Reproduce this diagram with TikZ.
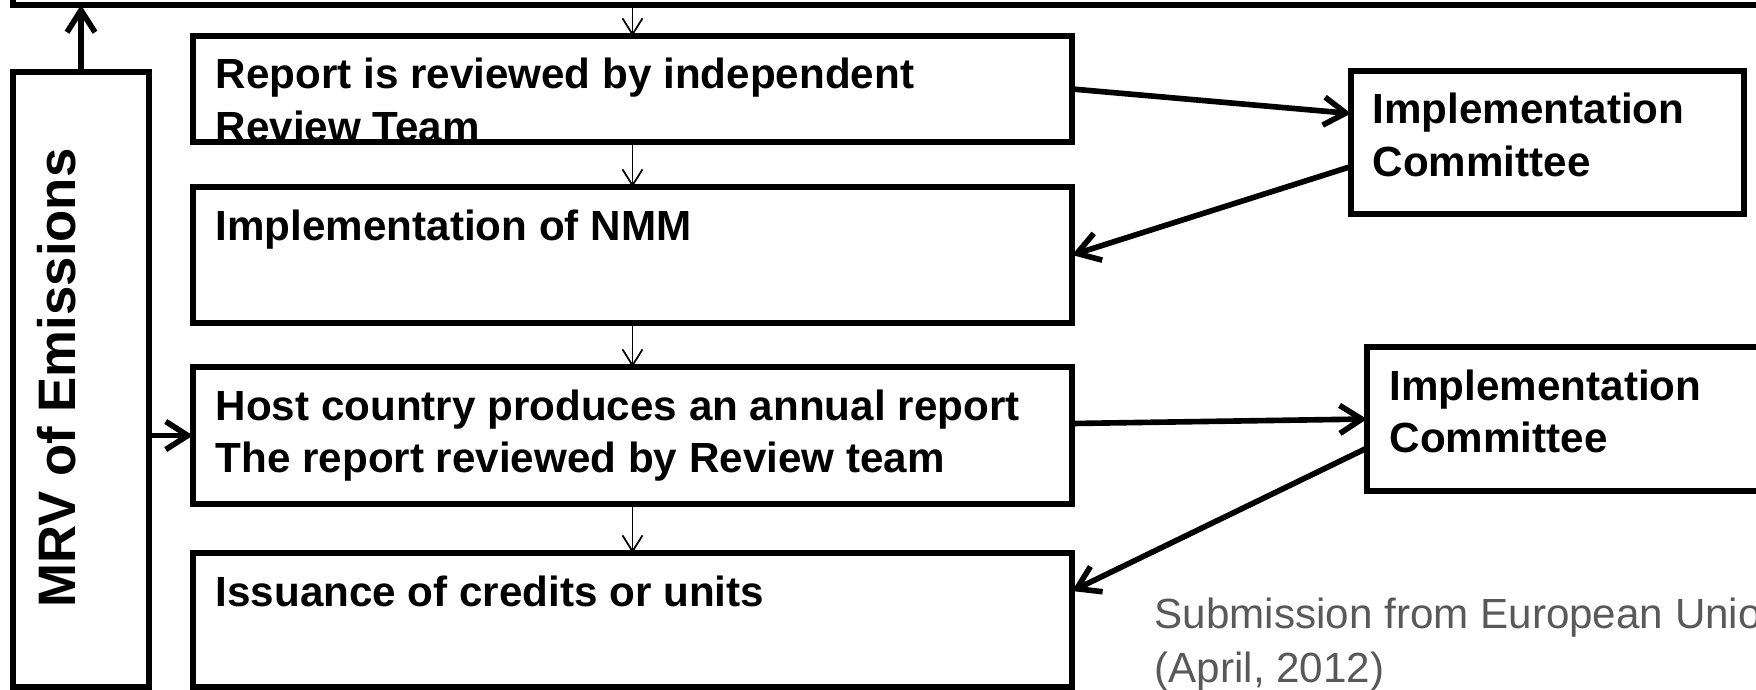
\documentclass[tikz,border=0pt]{standalone}
\usepackage{fontspec}
\setmainfont{Liberation Sans}
\usetikzlibrary{arrows.meta}
\definecolor{srcgray}{RGB}{89,89,89}
\tikzset{
  stage/.style={draw, line width=1.6pt, inner sep=0pt, outer sep=0pt, anchor=north west, minimum width=8.79cm},
  stagetext/.style={anchor=base west, inner sep=0pt, align=left, font=\fontsize{12}{14.8}\selectfont\bfseries},
  flow/.style={-{Straight Barb[length=1.6mm,width=2mm]}, line width=0.5pt},
  link/.style={-{Straight Barb[length=2.2mm,width=2.8mm]}, line width=1.6pt},
}
\begin{document}
\begin{tikzpicture}
\useasboundingbox (0,0) rectangle (17.56,-6.89);
\clip (0,0) rectangle (17.56,-6.89);
\node[stage, anchor=south west, minimum width=18cm, minimum height=1cm] (top) at (0.13,-0.05) {};
\node[stage, minimum width=1.36cm, minimum height=6.15cm] (mrv) at (0.13,-0.72) {};
\node[rotate=90, anchor=base, inner sep=0pt, font=\fontsize{15}{17}\selectfont\bfseries] (mrvtxt) at (0.75,-3.78) {MRV of Emissions};
\node[stage, minimum height=1.06cm] (rev) at (1.93,-0.36) {};
\node[stage, minimum height=1.36cm] (nmm) at (1.93,-1.87) {};
\node[stage, minimum height=1.37cm] (host) at (1.93,-3.67) {};
\node[stage, minimum height=1.34cm] (iss) at (1.93,-5.53) {};
\node[stage, minimum width=3.93cm, minimum height=1.43cm] (ic1) at (13.51,-0.71) {};
\node[stage, minimum width=4.4cm, minimum height=1.44cm] (ic2) at (13.67,-3.47) {};
% two-line texts sit on the baseline of their last line
\node[stagetext] (revtxt) at (2.15,-1.41) {Report is reviewed by independent\\Review Team};
\node[stagetext] (nmmtxt) at (2.15,-2.40) {Implementation of NMM};
\node[stagetext] (hosttxt) at (2.15,-4.72) {Host country produces an annual report\\The report reviewed by Review team};
\node[stagetext] (isstxt) at (2.15,-6.06) {Issuance of credits or units};
\node[stagetext] (ic1txt) at (13.72,-1.76) {Implementation\\Committee};
\node[stagetext] (ic2txt) at (13.89,-4.52) {Implementation\\Committee};
\node[anchor=base west, inner sep=0pt, align=left, text=srcgray, font=\fontsize{12}{15.3}\selectfont] (src) at (11.54,-6.82) {Submission from European Union\\(April, 2012)};
% arrows
\draw[link] (mrv.north) -- (mrv.north |- top.south);
\draw[link] (mrv.east |- host.west) -- (host.west);
\draw[flow] (rev.north |- top.south) -- (rev.north);
\draw[flow] (rev.south) -- (nmm.north);
\draw[flow] (nmm.south) -- (host.north);
\draw[flow] (host.south) -- (iss.north);
\draw[link] (rev.east) -- ([yshift=0.29cm]ic1.west);
\draw[link] ([yshift=-0.24cm]ic1.west) -- (nmm.east);
\draw[link] ([yshift=0.12cm]host.east) -- (ic2.west);
\draw[link] ([yshift=-0.29cm]ic2.west) -- ([yshift=0.29cm]iss.east);
\end{tikzpicture}
\end{document}
